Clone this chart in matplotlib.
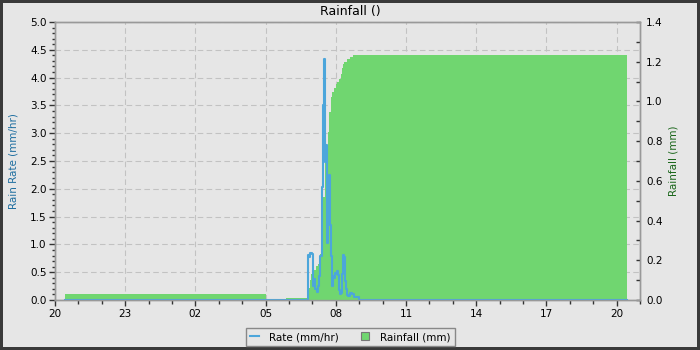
import matplotlib
matplotlib.use("Agg")
import matplotlib.pyplot as plt
from matplotlib.ticker import MultipleLocator, FixedLocator
from matplotlib.lines import Line2D

# ---- data (hours since 20:00) ----
x_tick_hours = [0, 3, 6, 9, 12, 15, 18, 21, 24]
x_tick_labels = ['20', '23', '02', '05', '08', '11', '14', '17', '20']

rate_hours = [0.43, 10.78, 10.82, 10.87, 10.91, 10.97, 11.01, 11.07, 11.11, 11.18,
              11.23, 11.27, 11.30, 11.32, 11.37, 11.40, 11.44, 11.48, 11.53, 11.57,
              11.61, 11.65, 11.70, 11.74, 11.78, 11.82, 11.87, 11.91, 11.95, 12.00,
              12.04, 12.08, 12.12, 12.17, 12.21, 12.25, 12.29, 12.34, 12.38, 12.42,
              12.46, 12.54, 12.61, 12.68, 12.76, 12.86, 12.91, 13.00, 24.43]
rate_values = [0.0, 0.0, 0.81, 0.78, 0.85, 0.83, 0.25, 0.37, 0.20, 0.15,
               0.25, 0.37, 0.43, 0.79, 0.79, 2.03, 3.50, 4.34, 2.48, 2.78,
               1.03, 1.34, 2.24, 1.34, 0.79, 0.25, 0.43, 0.40, 0.49, 0.47,
               0.53, 0.45, 0.18, 0.10, 0.12, 0.47, 0.81, 0.78, 0.35, 0.20,
               0.09, 0.08, 0.12, 0.10, 0.06, 0.06, 0.05, 0.0, 0.0]

rain_hours = [0.43, 9.0, 9.87, 10.80, 10.88, 10.95, 11.05, 11.15, 11.22, 11.28,
              11.34, 11.40, 11.46, 11.53, 11.60, 11.66, 11.72, 11.78, 11.85, 11.92,
              11.99, 12.06, 12.15, 12.22, 12.26, 12.30, 12.36, 12.47, 12.60, 12.72,
              24.43]
rain_values = [0.03, 0.0, 0.01, 0.06, 0.10, 0.13, 0.15, 0.17, 0.18, 0.19,
               0.23, 0.33, 0.52, 0.69, 0.78, 0.845, 0.946, 1.02, 1.05, 1.07,
               1.09, 1.10, 1.115, 1.14, 1.17, 1.19, 1.20, 1.215, 1.225, 1.232,
               1.232]

BG = '#e6e6e6'
BLUE = '#4ca6db'
GREEN = '#70d670'
SPINE = '#999999'

fig = plt.figure(figsize=(7, 3.5), dpi=100)
fig.patch.set_facecolor(BG)
fig.patch.set_edgecolor('#3a3a3a')
fig.patch.set_linewidth(2.9)

ax = fig.add_axes([55/700, 50/350, 585/700, 278/350])
ax.set_facecolor(BG)
ax2 = ax.twinx()

# grid on bottom axes
ax.set_axisbelow(True)
ax.grid(True, which='major', axis='both', color='#c2c2c2', linestyle=(0, (5, 3)), linewidth=0.8)

# rainfall area on right axis
ax2.fill_between(rain_hours, rain_values, step='post', color=GREEN, linewidth=0)
# rate line on left scale, drawn above the area
ax2.plot(rate_hours, rate_values, color=BLUE, linewidth=1.5, drawstyle='steps-post',
         transform=ax.transData)

ax.set_xlim(0, 25)
ax.set_ylim(0, 5)
ax2.set_ylim(0, 1.4)

ax.xaxis.set_major_locator(FixedLocator(x_tick_hours))
ax.set_xticklabels(x_tick_labels)
ax.xaxis.set_minor_locator(MultipleLocator(1))
ax.yaxis.set_major_locator(MultipleLocator(0.5))
ax.yaxis.set_minor_locator(MultipleLocator(0.1))
ax.yaxis.set_major_formatter(matplotlib.ticker.FormatStrFormatter('%.1f'))
ax2.yaxis.set_major_locator(MultipleLocator(0.2))
ax2.yaxis.set_minor_locator(MultipleLocator(0.1))
ax2.yaxis.set_major_formatter(matplotlib.ticker.FormatStrFormatter('%.1f'))

ax.tick_params(axis='x', which='major', direction='out', length=4, width=1, color='#333333', labelsize=7.5, pad=2.5)
ax.tick_params(axis='x', which='minor', direction='out', length=3, width=1, color='#333333')
ax.tick_params(axis='y', which='major', direction='out', length=4, width=1, color='#333333', labelsize=7.5, pad=2)
ax.tick_params(axis='y', which='minor', direction='out', length=2.5, width=1, color='#333333')
ax2.tick_params(axis='y', which='major', direction='in', length=3, width=1, color='#333333', labelsize=7.5, pad=4.5)
ax2.tick_params(axis='y', which='minor', direction='in', length=3, width=1, color='#333333')

for a in (ax, ax2):
    for s in a.spines.values():
        s.set_color(SPINE)
        s.set_linewidth(1.0)

ax.set_ylabel('Rain Rate (mm/hr)', color='#1e6ea0', fontsize=7.5)
ax.yaxis.set_label_coords(-0.063, 0.5)
ax2.set_ylabel('Rainfall (mm)', color='#1a661a', fontsize=7.5)
ax2.yaxis.set_label_coords(1.048, 0.5)

fig.text(0.5, 1 - 11/350, 'Rainfall ()', ha='center', va='center', fontsize=9)

handles = [Line2D([], [], color=BLUE, linewidth=1.5),
           Line2D([], [], linestyle='none', marker='s', markersize=6,
                  markerfacecolor=GREEN, markeredgecolor='#777777', markeredgewidth=0.8)]
leg = fig.legend(handles, ['Rate (mm/hr)', 'Rainfall (mm)'], loc='center',
                 bbox_to_anchor=(0.5, 1 - 337/350), ncol=2, fontsize=7.5,
                 frameon=True, fancybox=False, edgecolor='#888888', facecolor=BG,
                 framealpha=1, handlelength=0.9, handletextpad=1.0,
                 columnspacing=2.0, borderpad=0.4)
leg.get_frame().set_linewidth(1.0)

fig.savefig('out.png', dpi=100, facecolor=fig.get_facecolor(), edgecolor=fig.get_edgecolor())
